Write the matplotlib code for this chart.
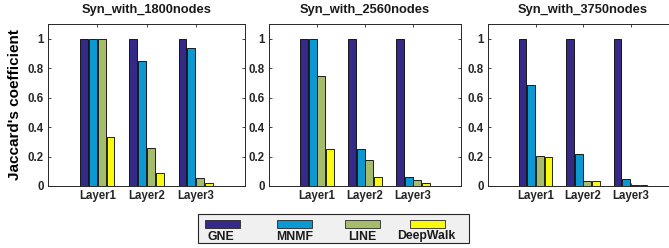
import matplotlib
matplotlib.use("Agg")
import matplotlib.pyplot as plt
import numpy as np
from matplotlib.patches import Rectangle

plt.rcParams['font.family'] = ['Liberation Sans', 'DejaVu Sans']

titles = ["Syn_with_1800nodes", "Syn_with_2560nodes", "Syn_with_3750nodes"]
layers = ["Layer1", "Layer2", "Layer3"]
methods = ["GNE", "MNMF", "LINE", "DeepWalk"]
colors = ["#352a87", "#0a99d2", "#a5bc6a", "#f9fa0f"]

gne_1800 = [1.0, 1.0, 1.0]
mnmf_1800 = [1.0, 0.852, 0.938]
line_1800 = [1.0, 0.257, 0.052]
dw_1800 = [0.336, 0.085, 0.02]

gne_2560 = [1.0, 1.0, 1.0]
mnmf_2560 = [1.0, 0.254, 0.063]
line_2560 = [0.744, 0.177, 0.04]
dw_2560 = [0.252, 0.063, 0.018]

gne_3750 = [1.0, 1.0, 1.0]
mnmf_3750 = [0.686, 0.216, 0.045]
line_3750 = [0.206, 0.036, 0.006]
dw_3750 = [0.2, 0.036, 0.006]

panels = [
    [gne_1800, mnmf_1800, line_1800, dw_1800],
    [gne_2560, mnmf_2560, line_2560, dw_2560],
    [gne_3750, mnmf_3750, line_3750, dw_3750],
]

W, H = 669, 248
fig = plt.figure(figsize=(W / 100, H / 100), dpi=100)

boxes = [(48, 245), (269, 461), (488, 678)]
top_px, bot_px = 24, 186

x = np.arange(1, len(layers) + 1)
step = 0.18
bw = 0.16
for i, (l, r) in enumerate(boxes):
    ax = fig.add_axes([l / W, (H - bot_px) / H, (r - l) / W, (bot_px - top_px) / H])
    for j, vals in enumerate(panels[i]):
        ax.bar(x + (j - 1.5) * step, vals, width=bw, color=colors[j],
               edgecolor="black", linewidth=0.6, label=methods[j])
    ax.set_xlim(0, 4)
    ax.set_ylim(0, 1.1)
    ax.set_yticks([0, 0.2, 0.4, 0.6, 0.8, 1.0])
    ax.set_yticklabels(["0", "0.2", "0.4", "0.6", "0.8", "1"])
    ax.set_xticks(x)
    ax.set_xticklabels(layers)
    ax.tick_params(direction="in", length=2.5, width=0.6, top=True, right=True,
                   labelsize=8.3, colors="#262626", pad=3)
    for lab in ax.get_xticklabels() + ax.get_yticklabels():
        lab.set_fontweight("bold")
        lab.set_color("#262626")
    for s in ax.spines.values():
        s.set_linewidth(0.7)
        s.set_color("#262626")
    fig.text(((l + r) / 2) / W if i < 2 else (488 + 190 / 2) / W, (H - 10) / H,
             titles[i], ha="center", va="center", fontsize=9.3, fontweight="bold",
             color="#1a1a1a")
    if i == 0:
        ax.set_ylabel("Jaccard's coefficient", fontsize=11, fontweight="bold",
                      labelpad=4)

lx0, lx1, ly0, ly1 = 198, 469, 214, 243
fig.patches.append(Rectangle((lx0 / W, (H - ly1) / H), (lx1 - lx0) / W,
                             (ly1 - ly0) / H, transform=fig.transFigure,
                             facecolor="#f0f0f0", edgecolor="#262626",
                             linewidth=0.8))
patch_x = [205, 277, 345, 410]
label_cx = [221, 295, 362, 426]
for k in range(len(methods)):
    fig.patches.append(Rectangle((patch_x[k] / W, (H - 228) / H), 35 / W, 8 / H,
                                 transform=fig.transFigure,
                                 facecolor=colors[k], edgecolor="#262626",
                                 linewidth=0.6))
    fig.text(label_cx[k] / W, (H - 236.5) / H, methods[k], ha="center",
             va="center", fontsize=8.8, fontweight="bold", color="#1a1a1a")

fig.savefig("out.png", dpi=100)
